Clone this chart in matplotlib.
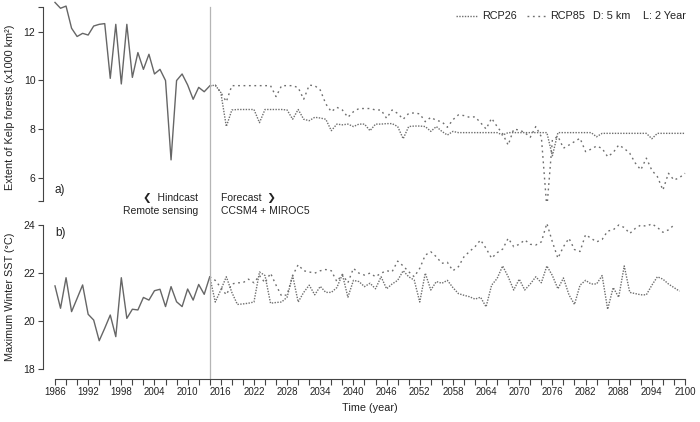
import numpy as np
import matplotlib
matplotlib.use("Agg")
import matplotlib.pyplot as plt
import matplotlib.transforms as mtrans
from matplotlib.lines import Line2D

plt.rcParams['font.family'] = ['Liberation Sans', 'DejaVu Sans']

# hindcast (remote sensing), 1986-2014
hind_years = np.arange(1986, 2015)
kelp_hind = [13.2, 12.96, 13.05, 12.14, 11.8, 11.93, 11.86, 12.23, 12.3, 12.33,
             10.08, 12.3, 9.85, 12.3, 10.12, 11.14, 10.45, 11.07, 10.26, 10.45,
             9.99, 6.73, 9.99, 10.26, 9.81, 9.22, 9.71, 9.53, 9.77]
sst_hind = [21.47, 20.54, 21.81, 20.4, 20.95, 21.51, 20.29, 20.05, 19.19, 19.71,
            20.26, 19.36, 21.81, 20.12, 20.5, 20.47, 20.99, 20.88, 21.27, 21.33,
            20.61, 21.44, 20.81, 20.61, 21.34, 20.88, 21.53, 21.12, 21.85]

# forecast kelp, 2014-2100
kelp_years = np.arange(2014, 2101)
kelp_rcp26 = [9.77, 9.8, 9.5, 8.1, 8.78, 8.8, 8.8, 8.8, 8.8, 8.26,
              8.8, 8.8, 8.8, 8.8, 8.78, 8.4, 8.8, 8.4, 8.34, 8.48,
              8.45, 8.4, 7.93, 8.2, 8.17, 8.2, 8.1, 8.2, 8.2, 7.93,
              8.2, 8.2, 8.22, 8.22, 8.1, 7.6, 8.1, 8.12, 8.12, 8.1,
              7.9, 8.1, 7.9, 7.75, 7.9, 7.85, 7.85, 7.85, 7.85, 7.85,
              7.85, 7.85, 7.85, 7.75, 7.85, 7.85, 7.85, 7.85, 7.85, 7.85,
              7.85, 7.85, 6.9, 7.85, 7.85, 7.85, 7.85, 7.85, 7.85, 7.85,
              7.68, 7.82, 7.82, 7.82, 7.82, 7.82, 7.82, 7.82, 7.82, 7.82,
              7.6, 7.82, 7.82, 7.82, 7.82, 7.82, 7.82]
kelp_rcp85 = [9.77, 9.8, 9.5, 9.12, 9.78, 9.78, 9.78, 9.78, 9.78, 9.78,
              9.78, 9.78, 9.33, 9.78, 9.78, 9.78, 9.7, 9.22, 9.8, 9.78,
              9.6, 9.03, 8.71, 8.89, 8.78, 8.48, 8.71, 8.84, 8.84, 8.84,
              8.78, 8.78, 8.44, 8.78, 8.64, 8.4, 8.64, 8.66, 8.62, 8.3,
              8.48, 8.35, 8.3, 8.07, 8.38, 8.58, 8.55, 8.48, 8.5, 8.26,
              8.0, 8.44, 8.1, 7.8, 7.34, 7.99, 7.96, 7.85, 7.66, 8.1,
              7.68, 4.74, 7.55, 7.7, 7.21, 7.34, 7.48, 7.62, 7.07, 7.17,
              7.3, 7.2, 6.86, 7.03, 7.34, 7.2, 7.0, 6.6, 6.32, 6.8,
              6.3, 6.04, 5.49, 6.18, 5.9, 6.0, 6.18]

# forecast SST
sst26_years = np.arange(2014, 2100)
sst_rcp26 = [21.85, 20.8, 21.3, 21.85, 21.2, 20.7, 20.72, 20.75, 20.8, 22.05,
             21.9, 20.75, 20.78, 20.8, 21.0, 21.9, 20.8, 21.2, 21.5, 21.1,
             21.45, 21.2, 21.2, 21.4, 21.95, 21.0, 21.7, 21.65, 21.44, 21.58,
             21.35, 21.85, 21.35, 21.55, 21.7, 22.1, 21.85, 21.71, 20.8, 22.0,
             21.3, 21.65, 21.58, 21.7, 21.4, 21.15, 21.08, 21.02, 20.92, 21.0,
             20.6, 21.5, 21.78, 22.3, 21.85, 21.3, 21.75, 21.3, 21.55, 21.85,
             21.6, 22.3, 21.9, 21.35, 21.8, 21.1, 20.7, 21.5, 21.7, 21.55,
             21.55, 21.9, 20.5, 21.4, 21.0, 22.3, 21.2, 21.15, 21.1, 21.1,
             21.5, 21.85, 21.75, 21.55, 21.4, 21.25]
sst85_years = np.arange(2014, 2099)
sst_rcp85 = [21.85, 21.7, 21.4, 21.1, 21.55, 21.6, 21.6, 21.75, 21.6, 21.9,
             21.6, 22.0, 21.5, 21.05, 21.1, 21.9, 22.35, 22.1, 22.05, 22.0,
             22.1, 22.15, 22.1, 21.65, 21.95, 21.6, 22.2, 22.0, 21.92, 22.0,
             21.85, 22.0, 22.1, 22.06, 22.5, 22.3, 22.06, 21.85, 22.2, 22.75,
             22.89, 22.68, 22.41, 22.45, 22.1, 22.27, 22.68, 22.9, 23.1, 23.38,
             23.03, 22.62, 22.85, 23.0, 23.45, 23.1, 23.2, 23.38, 23.2, 23.17,
             23.3, 24.07, 23.3, 22.62, 23.1, 23.45, 22.98, 22.9, 23.6, 23.45,
             23.3, 23.4, 23.75, 23.8, 24.0, 23.9, 23.65, 23.86, 24.0, 23.95,
             24.05, 23.9, 23.7, 23.8, 24.0]

W, H = 700, 422
fig = plt.figure(figsize=(7, 4.22), dpi=100)
txt = '#222222'
solid_c = '#666666'
dot_c = '#6e6e6e'
ls26 = (0, (1, 1))
ls85 = (0, (1.3, 2.6))

left = 43 / W
width = (690 - 43) / W
ax1 = fig.add_axes([left, 1 - 201 / H, width, 201 / H])
ax2 = fig.add_axes([left, 1 - 378.5 / H, width, 177.5 / H], sharex=ax1)

ax1.plot(hind_years, kelp_hind, color=solid_c, lw=1.0)
ax1.plot(kelp_years, kelp_rcp26, color=dot_c, lw=1.0, ls=ls26)
ax1.plot(kelp_years, kelp_rcp85, color=dot_c, lw=1.0, ls=ls85)

ax2.plot(hind_years, sst_hind, color=solid_c, lw=1.0)
ax2.plot(sst26_years, sst_rcp26, color=dot_c, lw=1.0, ls=ls26)
ax2.plot(sst85_years, sst_rcp85, color=dot_c, lw=1.0, ls=ls85)

ax1.set_xlim(1983.83, 2100.9)
ax1.set_ylim(5.04, 13.30)
ax2.set_ylim(17.62, 25.0)

# hindcast / forecast divider
ax1.axvline(2014, ymin=0, ymax=(13.0 - 5.04) / (13.30 - 5.04), color='#b5b5b5', lw=0.9)
ax2.axvline(2014, color='#b5b5b5', lw=0.9)

for ax in (ax1, ax2):
    for s in ('top', 'right'):
        ax.spines[s].set_visible(False)
    ax.spines['left'].set_color('#444444')
    ax.spines['left'].set_linewidth(0.8)
    ax.tick_params(axis='y', direction='out', length=3.5, width=0.8, colors='#444444',
                   labelcolor=txt, labelsize=7.5, pad=2)
    ax.set_facecolor('none')

ax1.spines['bottom'].set_visible(False)
ax1.spines['left'].set_bounds(5.05, 13.0)
ax1.set_yticks([6, 8, 10, 12])
ax1.set_yticks([5.05, 13.0], minor=True)
ax1.tick_params(axis='y', which='minor', length=3.5, width=0.8, colors='#444444')
ax1.tick_params(axis='x', which='both', bottom=False, labelbottom=False)

ax2.spines['left'].set_bounds(18, 24)
ax2.set_yticks([18, 20, 22, 24])
ax2.spines['bottom'].set_bounds(1986, 2100)
ax2.spines['bottom'].set_color('#444444')
ax2.spines['bottom'].set_linewidth(0.8)
ax2.set_xticks(np.arange(1986, 2101, 6))
ax2.set_xticks(np.arange(1986, 2101, 2), minor=True)
ax2.tick_params(axis='x', which='both', direction='out', length=4, width=0.8,
                colors='#444444', labelcolor=txt, labelsize=7, pad=2)

fig.text(10 / W, 1 - 107 / H, 'Extent of Kelp forests (x1000 km²)', rotation=90,
         ha='center', va='center', fontsize=7.8, color=txt)
fig.text(10 / W, 1 - 297 / H, 'Maximum Winter SST (°C)', rotation=90,
         ha='center', va='center', fontsize=7.8, color=txt)
fig.text((55 + 315) / W, 1 - 408 / H, 'Time (year)', ha='center', va='center',
         fontsize=7.8, color=txt)

ax1.text(1986, 5.49, 'a)', ha='left', va='center', fontsize=8.5, color=txt)
ax2.text(1986, 23.67, 'b)', ha='left', va='center', fontsize=8.5, color=txt)

bt = mtrans.blended_transform_factory(ax2.transData, fig.transFigure)
fig.text(2011.9, 1 - 198 / H, '❮  Hindcast', transform=bt, ha='right', va='center',
         fontsize=7.5, color=txt)
fig.text(2011.9, 1 - 211 / H, 'Remote sensing', transform=bt, ha='right', va='center',
         fontsize=7.5, color=txt)
fig.text(2016.0, 1 - 198 / H, 'Forecast  ❯', transform=bt, ha='left', va='center',
         fontsize=7.5, color=txt)
fig.text(2016.0, 1 - 211 / H, 'CCSM4 + MIROC5', transform=bt, ha='left', va='center',
         fontsize=7.5, color=txt)

# legend row
ly = 1 - 16 / H
fig.add_artist(Line2D([456 / W, 478 / W], [ly, ly], color=dot_c, lw=1.0, ls=ls26))
fig.text(482 / W, ly, 'RCP26', ha='left', va='center', fontsize=7.8, color=txt)
fig.add_artist(Line2D([527 / W, 548 / W], [ly, ly], color=dot_c, lw=1.0, ls=ls85))
fig.text(550 / W, ly, 'RCP85', ha='left', va='center', fontsize=7.8, color=txt)
fig.text(593 / W, ly, 'D: 5 km', ha='left', va='center', fontsize=7.8, color=txt)
fig.text(643 / W, ly, 'L: 2 Year', ha='left', va='center', fontsize=7.8, color=txt)

fig.savefig('out.png', dpi=100)
